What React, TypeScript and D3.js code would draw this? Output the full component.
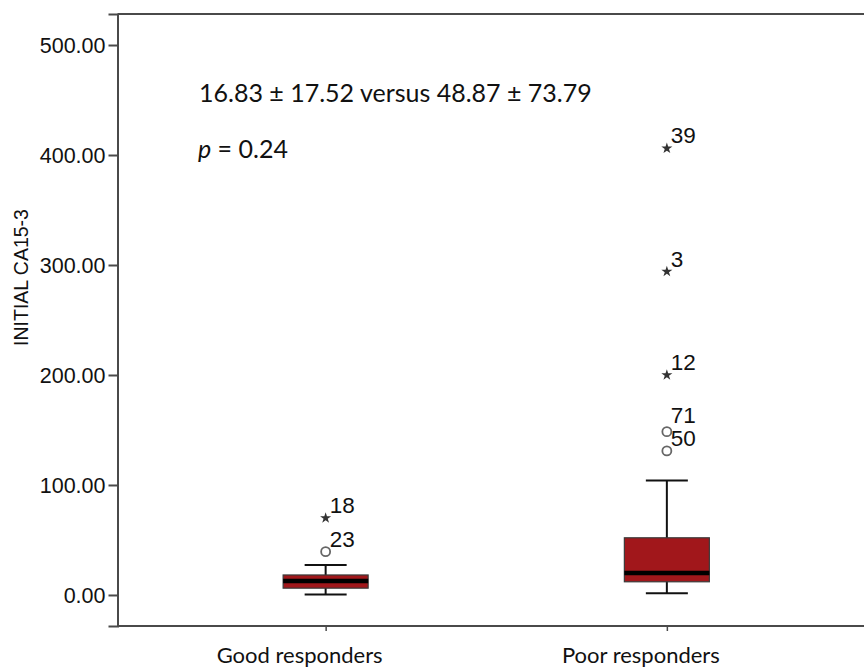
import * as d3 from "d3";
import { useEffect, useRef } from "react";

// categories and box statistics
const groups = ["Good responders", "Poor responders"];
const whiskerLow = [0.5, 1.5];
const q1 = [6.2, 12];
const median = [12.8, 20];
const q3 = [18.2, 52];
const whiskerHigh = [27.3, 104];

// outliers: o = circle, * = extreme
const outlierGroup = ["Good responders", "Good responders", "Poor responders", "Poor responders", "Poor responders", "Poor responders", "Poor responders"];
const outlierValue = [39.4, 70, 131, 148.5, 200, 294, 406];
const outlierKind = ["o", "*", "o", "o", "*", "*", "*"];
const outlierLabel = ["23", "18", "50", "71", "12", "3", "39"];

const yTicks = [0, 100, 200, 300, 400, 500];

const W = 864;
const H = 669;

const App = () => {
  const svgRef = useRef<SVGSVGElement>(null);

  useEffect(() => {
    document.body.style.margin = "0";
    const svg = d3.select(svgRef.current).attr("width", W).attr("height", H);
    svg.selectAll("*").remove();

    const left = 117.5;
    const top = 14;
    const bottom = 626;

    const y = d3.scaleLinear().domain([-28.2, 528.2]).range([bottom, top]);
    const x = d3.scalePoint<string>().domain(groups).range([left, 875]).padding(0.61);

    const axisColor = "#4a4a4a";

    // рамка
    svg.append("line").attr("x1", left).attr("x2", W).attr("y1", top).attr("y2", top)
      .attr("stroke", axisColor).attr("stroke-width", 2);

    // ось y
    const yAxis = svg.append("g")
      .attr("transform", `translate(${left},0)`)
      .call(d3.axisLeft(y).tickValues(yTicks).tickSize(9).tickFormat(d3.format(".2f")));
    yAxis.select(".domain").attr("stroke", axisColor).attr("stroke-width", 2);
    yAxis.selectAll(".tick line").attr("stroke", axisColor).attr("stroke-width", 2);
    yAxis.selectAll(".tick text")
      .attr("x", -12)
      .attr("dy", "0.36em")
      .style("font-family", "'Liberation Sans', Arial, sans-serif")
      .style("font-size", "21.5px")
      .style("fill", "#111");

    // ось x
    const xAxis = svg.append("g")
      .attr("transform", `translate(0,${bottom})`)
      .call(d3.axisBottom(x).tickSize(5).tickFormat(() => ""));
    xAxis.select(".domain").attr("stroke", axisColor).attr("stroke-width", 2)
      .attr("d", `M${left},0H${W}`);
    xAxis.selectAll(".tick line").attr("stroke", axisColor).attr("stroke-width", 1.5);

    // подписи категорий
    svg.selectAll(".cat")
      .data(groups)
      .enter()
      .append("text")
      .attr("x", d => (x(d) as number) - 26)
      .attr("y", 663)
      .attr("text-anchor", "middle")
      .style("font-family", "Lato, 'Open Sans', sans-serif")
      .style("font-size", "22px")
      .style("fill", "#111")
      .text(d => d);

    // подпись оси y
    svg.append("text")
      .attr("transform", "rotate(-90)")
      .attr("x", -(212 + 343) / 2)
      .attr("y", 28)
      .attr("text-anchor", "middle")
      .style("font-family", "'Liberation Sans', Arial, sans-serif")
      .style("font-size", "19.5px")
      .style("fill", "#111")
      .text("INITIAL CA15-3");

    // боксы
    const boxW = 85;
    const capW = 42;
    groups.forEach((g, i) => {
      const cx = x(g) as number;
      const gEl = svg.append("g");
      gEl.append("line").attr("x1", cx).attr("x2", cx)
        .attr("y1", y(whiskerLow[i])).attr("y2", y(whiskerHigh[i]))
        .attr("stroke", "#111").attr("stroke-width", 2);
      [whiskerLow[i], whiskerHigh[i]].forEach(v => {
        gEl.append("line").attr("x1", cx - capW / 2).attr("x2", cx + capW / 2)
          .attr("y1", y(v)).attr("y2", y(v))
          .attr("stroke", "#111").attr("stroke-width", 2);
      });
      gEl.append("rect")
        .attr("x", cx - boxW / 2).attr("width", boxW)
        .attr("y", y(q3[i])).attr("height", y(q1[i]) - y(q3[i]))
        .attr("fill", "#a1171b").attr("stroke", "#3a3a3a").attr("stroke-width", 1.2);
      gEl.append("line").attr("x1", cx - boxW / 2).attr("x2", cx + boxW / 2)
        .attr("y1", y(median[i])).attr("y2", y(median[i]))
        .attr("stroke", "#000").attr("stroke-width", 4.5);
    });

    // выбросы
    const pts = outlierValue.map((v, i) => ({
      g: outlierGroup[i], v, kind: outlierKind[i], label: outlierLabel[i],
      px: x(outlierGroup[i]) as number, py: y(v),
    }));
    const star = d3.symbol().type(d3.symbolStar).size(38);
    pts.forEach(p => {
      if (p.kind === "o") {
        svg.append("circle").attr("cx", p.px).attr("cy", p.py).attr("r", 4.5)
          .attr("fill", "#fff").attr("stroke", "#666").attr("stroke-width", 1.8);
      } else {
        svg.append("path").attr("d", star() as string)
          .attr("transform", `translate(${p.px},${p.py})`)
          .attr("fill", "#333");
      }
    });

    // подписи выбросов с раздвижкой
    groups.forEach(g => {
      const list = pts.filter(p => p.g === g).sort((a, b) => b.py - a.py);
      let prev = Infinity;
      list.forEach(p => {
        let base = p.py - 5;
        if (prev - base < 23) base = prev - 23;
        prev = base;
        svg.append("text")
          .attr("x", p.px + 4)
          .attr("y", base)
          .style("font-family", "'Liberation Sans', Arial, sans-serif")
          .style("font-size", "22.5px")
          .style("fill", "#111")
          .text(p.label);
      });
    });

    // аннотация
    const note = svg.append("g")
      .style("font-family", "Lato, 'Open Sans', sans-serif")
      .style("font-size", "25px")
      .style("fill", "#111");
    note.append("text").attr("x", 199).attr("y", 102)
      .text("16.83 \u00b1 17.52 versus 48.87 \u00b1 73.79");
    const pt = note.append("text").attr("x", 198).attr("y", 158);
    pt.append("tspan").style("font-style", "italic").text("p");
    pt.append("tspan").text(" = 0.24");
  }, []);

  return <svg ref={svgRef} width={W} height={H} style={{ display: "block" }} />;
};

export default App;
